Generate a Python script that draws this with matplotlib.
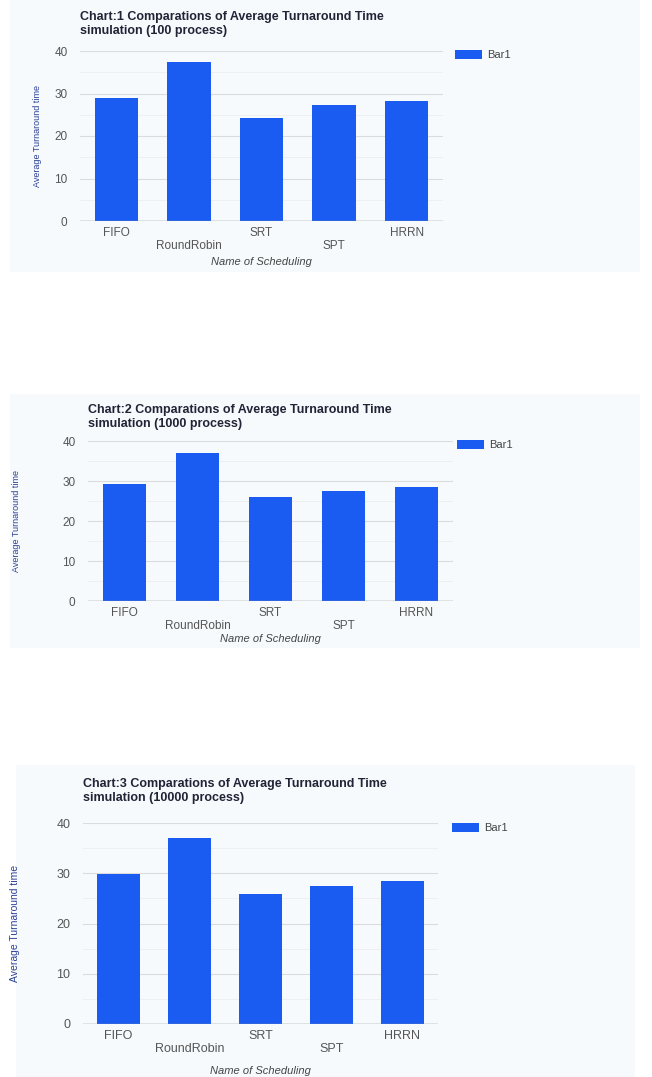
import matplotlib
matplotlib.use("Agg")
import matplotlib.pyplot as plt
from matplotlib.patches import Rectangle
from matplotlib.ticker import MultipleLocator

plt.rcParams["font.family"] = ["Liberation Sans", "DejaVu Sans"]

W, H = 652, 1077

schedulers = ["FIFO", "RoundRobin", "SRT", "SPT", "HRRN"]
avg_tat_100 = [28.9, 37.4, 24.2, 27.3, 28.2]
avg_tat_1000 = [29.3, 37.1, 26.1, 27.6, 28.5]
avg_tat_10000 = [29.8, 37.1, 25.8, 27.4, 28.4]

titles = [
    "Chart:1 Comparations of Average Turnaround Time\nsimulation (100 process)",
    "Chart:2 Comparations of Average Turnaround Time\nsimulation (1000 process)",
    "Chart:3 Comparations of Average Turnaround Time\nsimulation (10000 process)",
]

BAR_COLOR = "#1a5cf2"
BG_COLOR = "#f6fafd"

fig = plt.figure(figsize=(W / 100, H / 100), dpi=100)
fig.patch.set_facecolor("white")


def fx(x):
    return x / W


def fy(y):
    return 1 - y / H


def panel(values, title, bg, plot, title_y, legend_y, legend_x, ylab_x,
          xlab_pad=2, ylab_size=6.5, tick_size=8.5):
    # bg / plot given as pixel boxes (x0, y0, x1, y1), y measured from top
    bx0, by0, bx1, by1 = bg
    fig.patches.append(Rectangle((fx(bx0), fy(by1)), fx(bx1 - bx0), (by1 - by0) / H,
                                 transform=fig.transFigure, facecolor=BG_COLOR,
                                 edgecolor="none", zorder=-5))
    px0, py0, px1, py1 = plot
    ax = fig.add_axes([fx(px0), fy(py1), fx(px1 - px0), (py1 - py0) / H])
    ax.set_facecolor("none")
    x = range(len(schedulers))
    ax.bar(x, values, width=0.6, color=BAR_COLOR, label="Bar1", zorder=3)
    ax.set_xlim(-0.5, len(schedulers) - 0.5)
    ax.set_ylim(0, 40)
    ax.yaxis.set_major_locator(MultipleLocator(10))
    ax.yaxis.set_minor_locator(MultipleLocator(5))
    ax.grid(axis="y", which="major", color="#dcdcdc", linewidth=0.8, zorder=0)
    ax.grid(axis="y", which="minor", color="#eeeeee", linewidth=0.6, zorder=0)
    ax.axhline(0, color="#8a8a8a", linewidth=1.0, zorder=4)
    for s in ax.spines.values():
        s.set_visible(False)
    ax.tick_params(axis="both", which="both", length=0, labelsize=tick_size, colors="#555555")
    ax.tick_params(axis="y", pad=9)
    ax.tick_params(axis="x", pad=4)
    ax.set_xticks(list(x))
    ax.set_xticklabels([n if i % 2 == 0 else "\n" + n for i, n in enumerate(schedulers)])
    ax.set_xlabel("Name of Scheduling", fontsize=8, style="italic", color="#444444",
                  labelpad=xlab_pad)
    fig.text(fx(px0), fy(title_y), title, fontsize=9, fontweight="bold", color="#222436",
             va="top", ha="left", linespacing=1.2)
    fig.text(fx(ylab_x), fy((py0 + py1) / 2), "Average Turnaround time", rotation=90,
             fontsize=ylab_size, color="#2b3f96", ha="center", va="center")
    ax.legend(loc="center left", bbox_to_anchor=(fx(legend_x), fy(legend_y)),
              bbox_transform=fig.transFigure, frameon=False, fontsize=8,
              handlelength=2.4, handleheight=0.9, borderpad=0, borderaxespad=0,
              handletextpad=0.5, labelcolor="#444444")
    return ax


panel(avg_tat_100, titles[0], (10, 0, 640, 272), (80, 51, 443, 221), 11, 55, 455, 37,
      xlab_pad=3)
panel(avg_tat_1000, titles[1], (10, 394, 640, 648), (88, 441, 453, 601), 404, 445, 457, 17,
      xlab_pad=1)
panel(avg_tat_10000, titles[2], (16, 765, 635, 1077), (83, 823, 438, 1024), 778, 828, 452, 15,
      xlab_pad=8, ylab_size=7.5, tick_size=9)

fig.savefig("out.png", dpi=100)
